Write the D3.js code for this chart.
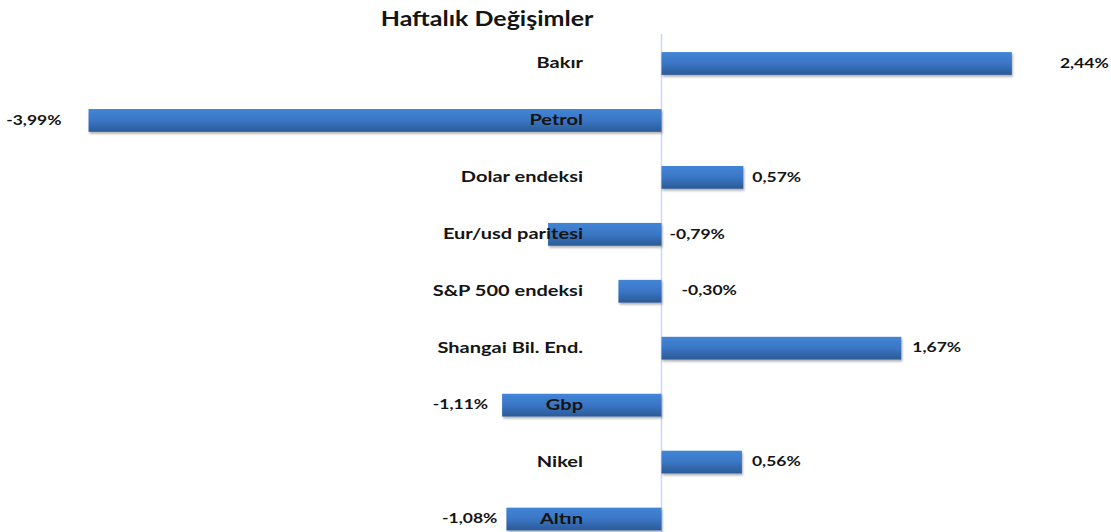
<!DOCTYPE html>
<html><head><meta charset="utf-8">
<script src="https://cdn.jsdelivr.net/npm/d3@7"></script>
<style>html,body{margin:0;padding:0;background:#fff;}svg{display:block;}</style>
</head><body>
<svg id="chart" width="1111" height="532"></svg>
<script>
const categories = ["Bakır","Petrol","Dolar endeksi","Eur/usd paritesi","S&P 500 endeksi","Shangai Bil. End.","Gbp","Nikel","Altın"];
const values = [2.44,-3.99,0.57,-0.79,-0.30,1.67,-1.11,0.56,-1.08];
const valueLabels = ["2,44%","-3,99%","0,57%","-0,79%","-0,30%","1,67%","-1,11%","0,56%","-1,08%"];
const title = "Haftalık Değişimler";
// label layout (px offsets), kept separate from data
const labelOffset = [48,-27,9,8,20,11,-14,10,-9];
const labelRef = ["bar","bar","bar","zero","zero","bar","bar","bar","bar"];

const W = 1111, H = 532, SX = 1.25;
const svg = d3.select("#chart");
const x = d3.scaleLinear().domain([-4,3]).range([661.5-4*143.6, 661.5+3*143.6]);
const y = d3.scaleBand().domain(categories).range([35,547.5]).paddingInner(0.6).paddingOuter(0.3);

const defs = svg.append("defs");
const g = defs.append("linearGradient").attr("id","barGrad").attr("x1",0).attr("y1",0).attr("x2",0).attr("y2",1);
g.append("stop").attr("offset","0%").attr("stop-color","#4285d6");
g.append("stop").attr("offset","50%").attr("stop-color","#3a76c4");
g.append("stop").attr("offset","100%").attr("stop-color","#2b5a97");
const f = defs.append("filter").attr("id","shadow").attr("x","-5%").attr("y","-30%").attr("width","110%").attr("height","170%");
f.append("feDropShadow").attr("dx",1).attr("dy",2).attr("stdDeviation",1.2).attr("flood-color","#000").attr("flood-opacity",0.3);

// zero line
svg.append("line").attr("x1",x(0)).attr("x2",x(0)).attr("y1",34).attr("y2",H)
  .attr("stroke","#c9dbf1").attr("stroke-width",1.5);

const data = categories.map((c,i)=>({c,v:values[i],lab:valueLabels[i],off:labelOffset[i],ref:labelRef[i]}));

svg.append("g").selectAll("rect").data(data).join("rect")
  .attr("x",d=>x(Math.min(0,d.v))).attr("width",d=>Math.abs(x(d.v)-x(0)))
  .attr("y",d=>y(d.c)).attr("height",y.bandwidth())
  .attr("fill","url(#barGrad)").attr("filter","url(#shadow)");

function stretchedText(sel, px, py, anchor, size, weight, txt){
  sel.append("text").attr("transform",`translate(${px},${py}) scale(${SX},1)`)
    .attr("text-anchor",anchor).attr("dominant-baseline","central")
    .attr("font-family","Lato, 'Open Sans', sans-serif").attr("font-size",size)
    .attr("font-weight",weight).attr("fill","#141414").text(txt);
}

// title
stretchedText(svg, 487, 18, "middle", 20, 700, title);

// category labels
const cl = svg.append("g");
data.forEach(d=>stretchedText(cl, 583, y(d.c)+y.bandwidth()/2 - 1.5, "end", 16, 700, d.c));

// value labels
const vl = svg.append("g");
data.forEach(d=>{
  const cy = y(d.c)+y.bandwidth()/2 - 1.5;
  let px, anchor;
  if(d.ref==="zero"){ px = x(0)+d.off; anchor="start"; }
  else if(d.v>=0){ px = x(d.v)+d.off; anchor="start"; }
  else { px = x(d.v)+d.off; anchor="end"; }
  stretchedText(vl, px, cy, anchor, 14, 700, d.lab);
});
</script>
</body></html>
